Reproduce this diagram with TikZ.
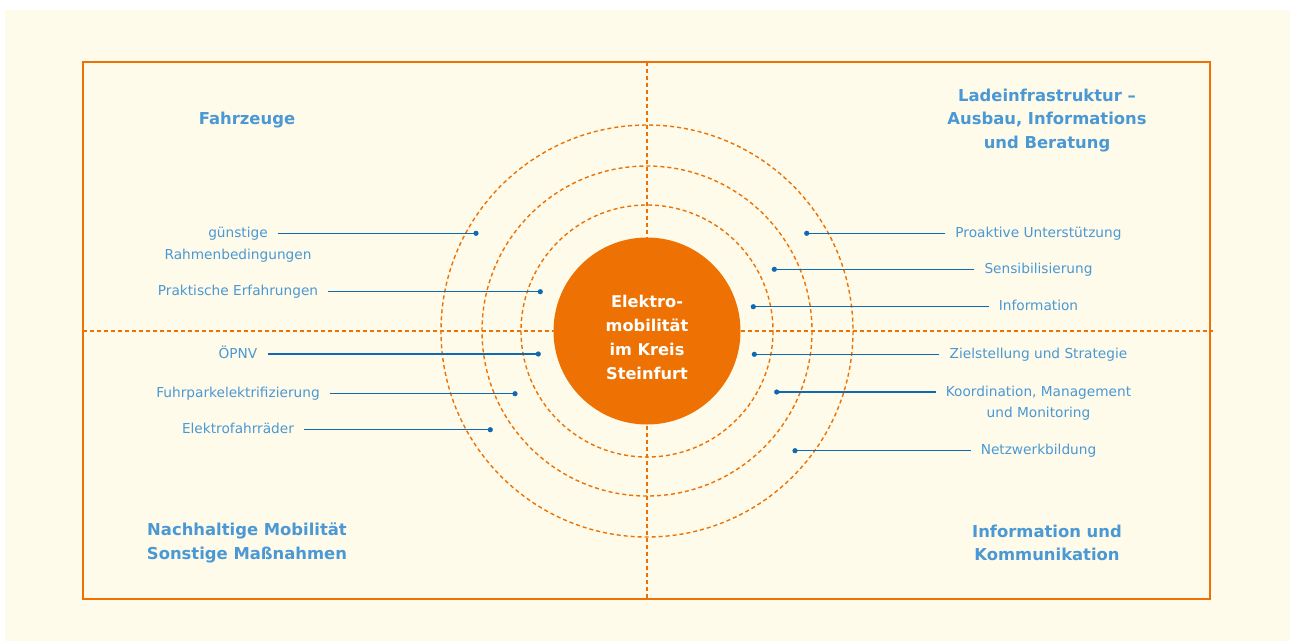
\documentclass[tikz,border=0pt]{standalone}
\usepackage{fontspec}
\setmainfont{DejaVu Sans}
\usetikzlibrary{positioning}
\definecolor{cream}{RGB}{255,251,234}
\definecolor{orng}{RGB}{238,114,3}
\definecolor{txtblue}{RGB}{74,152,212}
\definecolor{lnblue}{RGB}{16,106,178}
\begin{document}
\begin{tikzpicture}[x=1pt,y=-1pt,
    ring/.style={orng, line width=1.4pt, dash pattern=on 4pt off 3pt},
    lbl/.style={txtblue, font=\fontsize{13.7}{16}\selectfont, inner xsep=10pt, inner ysep=0pt, text height=10pt, text depth=2pt},
    head/.style={txtblue, font=\fontsize{16.4}{23.5}\selectfont\bfseries, align=center},
    conn/.style={lnblue, line width=1.5pt}]
    \useasboundingbox (0,0) rectangle (1290,641);
    \fill[cream] (5,10) rectangle (1290,641);
    \draw[orng, line width=1.5pt] (83,62) rectangle (1210,599);
    % axes and rings
    \draw[ring] (647,62) -- (647,599);
    \draw[ring] (83,331) -- (1213,331);
    \coordinate (mid) at (647,331);
    \draw[ring] (mid) circle (126);
    \draw[ring] (mid) circle (165);
    \draw[ring] (mid) circle (206);
    \fill[orng] (mid) circle (93.5);
    \node[white, font=\fontsize{16.2}{24}\selectfont\bfseries, align=center] (hub) at (647,337) {Elektro-\\mobilität\\im Kreis\\Steinfurt};
    % headings
    \node[head] (fahrzeuge) at (247,120) {Fahrzeuge};
    \node[head] (ladeinfra) at (1047,120.5) {Ladeinfrastruktur –\\Ausbau, Informations\\und Beratung};
    \node[head] (nachhaltig) at (247,542.8) {Nachhaltige Mobilität\\Sonstige Maßnahmen};
    \node[head] (kommunikation) at (1047,542.8) {Information und\\Kommunikation};
    % left labels
    \node[lbl] (guenstig) at (238,233.3) {günstige};
    \node[lbl, below=10pt of guenstig] (rahmen) {Rahmenbedingungen};
    \node[lbl] (praxis) at (238,291.7) {Praktische Erfahrungen};
    \node[lbl] (oepnv) at (238,354) {ÖPNV};
    \node[lbl] (fuhrpark) at (238,393.7) {Fuhrparkelektrifizierung};
    \node[lbl] (rad) at (238,429.7) {Elektrofahrräder};
    \coordinate (guenstig-dot) at (476,233.3);
    \coordinate (praxis-dot) at (540.3,291.7);
    \coordinate (oepnv-dot) at (538.3,354);
    \coordinate (fuhrpark-dot) at (515,393.7);
    \coordinate (rad-dot) at (490.3,429.7);
    \foreach \n in {guenstig,praxis,oepnv,fuhrpark,rad} {
        \draw[conn] (\n.east) -- (\n-dot);
        \fill[lnblue] (\n-dot) circle (2.6);
    }
    % right labels
    \node[lbl] (proaktiv) at (1038.5,233.3) {Proaktive Unterstützung};
    \node[lbl] (sensib) at (1038.5,269.3) {Sensibilisierung};
    \node[lbl] (info) at (1038.5,306.7) {Information};
    \node[lbl] (ziel) at (1038.5,354.3) {Zielstellung und Strategie};
    \node[lbl] (koord) at (1038.5,392) {Koordination, Management};
    \node[lbl, below=9pt of koord] (monitor) {und Monitoring};
    \node[lbl] (netz) at (1038.5,450.7) {Netzwerkbildung};
    \coordinate (proaktiv-dot) at (806.7,233.3);
    \coordinate (sensib-dot) at (774.3,269.3);
    \coordinate (info-dot) at (753.3,306.7);
    \coordinate (ziel-dot) at (754.3,354.3);
    \coordinate (koord-dot) at (776.7,392);
    \coordinate (netz-dot) at (795,450.7);
    \foreach \n in {proaktiv,sensib,info,ziel,koord,netz} {
        \draw[conn] (\n.west) -- (\n-dot);
        \fill[lnblue] (\n-dot) circle (2.6);
    }
\end{tikzpicture}
\end{document}
